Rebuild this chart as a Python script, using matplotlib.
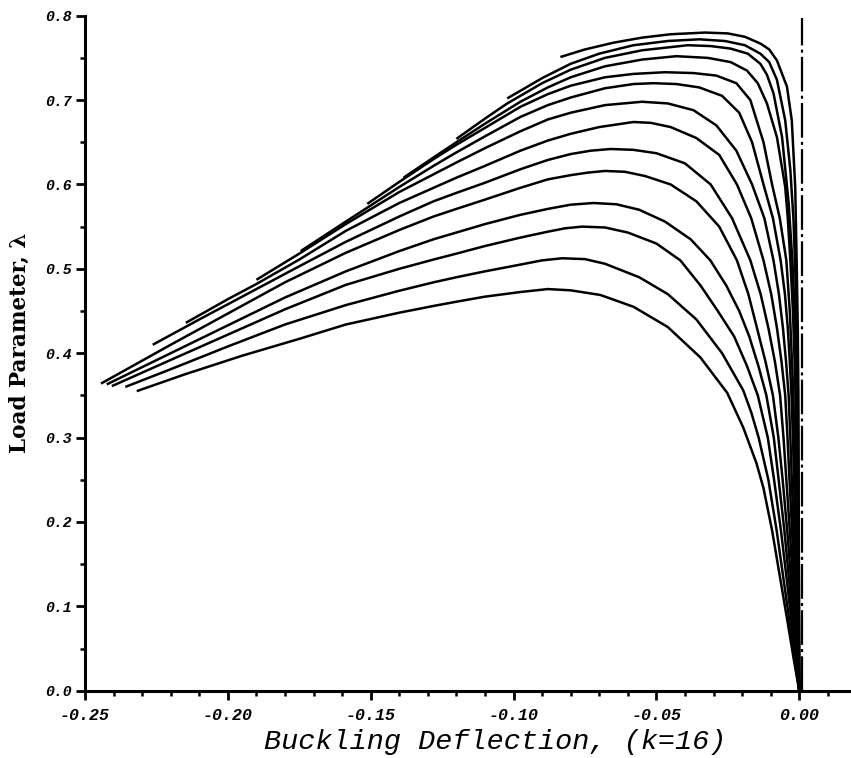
import matplotlib
matplotlib.use("Agg")
import matplotlib.pyplot as plt
from matplotlib.ticker import MultipleLocator

plt.rcParams['axes.unicode_minus'] = False
plt.rcParams['lines.scale_dashes'] = False

# load-deflection paths as (deflection, load) pairs
curve_01 = [(-0.2319, 0.355), (-0.215, 0.375), (-0.195, 0.397), (-0.175, 0.417), (-0.1587, 0.434),
            (-0.14, 0.448), (-0.128, 0.456), (-0.12, 0.461), (-0.11, 0.467), (-0.0976, 0.4725),
            (-0.088, 0.476), (-0.080, 0.4745), (-0.0696, 0.469), (-0.058, 0.455), (-0.046, 0.431),
            (-0.0346, 0.395), (-0.0252, 0.353), (-0.0196, 0.312), (-0.0150, 0.270), (-0.0125, 0.240),
            (-0.0095, 0.190), (-0.0065, 0.130), (-0.0040, 0.080), (-0.0018, 0.035), (0.0, 0.0)]
curve_02 = [(-0.2359, 0.360), (-0.22, 0.381), (-0.20, 0.408), (-0.18, 0.434), (-0.1587, 0.457),
            (-0.14, 0.474), (-0.128, 0.484), (-0.12, 0.490), (-0.11, 0.497), (-0.0976, 0.505),
            (-0.090, 0.510), (-0.083, 0.5125), (-0.075, 0.5115), (-0.068, 0.506), (-0.056, 0.490),
            (-0.046, 0.470), (-0.036, 0.440), (-0.027, 0.400), (-0.0196, 0.356), (-0.0168, 0.330),
            (-0.0142, 0.300), (-0.0108, 0.250), (-0.0079, 0.190), (-0.0054, 0.130), (-0.0033, 0.080),
            (-0.0015, 0.035), (0.0, 0.0)]
curve_03 = [(-0.2406, 0.361), (-0.22, 0.392), (-0.20, 0.422), (-0.18, 0.452), (-0.1587, 0.481),
            (-0.14, 0.500), (-0.128, 0.511), (-0.12, 0.518), (-0.11, 0.527), (-0.0976, 0.537),
            (-0.088, 0.544), (-0.082, 0.548), (-0.076, 0.550), (-0.068, 0.549), (-0.060, 0.543),
            (-0.050, 0.530), (-0.0416, 0.510), (-0.0345, 0.480), (-0.0285, 0.450), (-0.0228, 0.420),
            (-0.0183, 0.385), (-0.0145, 0.350), (-0.0110, 0.300), (-0.0088, 0.250), (-0.0064, 0.190),
            (-0.0043, 0.130), (-0.0026, 0.080), (-0.0011, 0.035), (0.0, 0.0)]
curve_04 = [(-0.2424, 0.363), (-0.22, 0.400), (-0.20, 0.433), (-0.18, 0.466), (-0.1587, 0.497),
            (-0.14, 0.521), (-0.128, 0.535), (-0.12, 0.543), (-0.11, 0.553), (-0.0976, 0.564),
            (-0.088, 0.571), (-0.080, 0.576), (-0.072, 0.578), (-0.064, 0.5765), (-0.056, 0.570),
            (-0.047, 0.556), (-0.038, 0.535), (-0.0311, 0.510), (-0.0255, 0.480), (-0.021, 0.450),
            (-0.0175, 0.420), (-0.0143, 0.385), (-0.0115, 0.350), (-0.0089, 0.300), (-0.0072, 0.250),
            (-0.0052, 0.190), (-0.0035, 0.130), (-0.0021, 0.080), (-0.0009, 0.035), (0.0, 0.0)]
curve_05 = [(-0.2444, 0.364), (-0.22, 0.410), (-0.20, 0.447), (-0.18, 0.484), (-0.1587, 0.519),
            (-0.14, 0.546), (-0.128, 0.562), (-0.12, 0.571), (-0.11, 0.582), (-0.0976, 0.596),
            (-0.088, 0.606), (-0.080, 0.611), (-0.074, 0.614), (-0.068, 0.616), (-0.061, 0.615),
            (-0.054, 0.610), (-0.045, 0.600), (-0.036, 0.580), (-0.028, 0.550), (-0.0218, 0.510),
            (-0.0178, 0.470), (-0.0148, 0.430), (-0.0118, 0.390), (-0.0092, 0.350), (-0.0073, 0.300),
            (-0.0058, 0.250), (-0.0042, 0.190), (-0.0028, 0.130), (-0.0017, 0.080), (-0.0007, 0.035),
            (0.0, 0.0)]
curve_06 = [(-0.2263, 0.410), (-0.21, 0.440), (-0.19, 0.476), (-0.175, 0.503), (-0.1587, 0.532),
            (-0.14, 0.562), (-0.128, 0.580), (-0.12, 0.590), (-0.11, 0.602), (-0.0976, 0.618),
            (-0.088, 0.629), (-0.080, 0.636), (-0.073, 0.640), (-0.066, 0.642), (-0.058, 0.641),
            (-0.050, 0.637), (-0.040, 0.625), (-0.031, 0.600), (-0.0235, 0.560), (-0.0171, 0.510),
            (-0.0135, 0.470), (-0.0108, 0.430), (-0.0085, 0.390), (-0.0067, 0.350), (-0.0055, 0.300),
            (-0.0045, 0.250), (-0.0033, 0.190), (-0.0022, 0.130), (-0.0013, 0.080), (-0.0005, 0.035),
            (0.0, 0.0)]
curve_07 = [(-0.2147, 0.436), (-0.20, 0.464), (-0.19, 0.482), (-0.175, 0.511), (-0.1587, 0.545),
            (-0.14, 0.578), (-0.128, 0.596), (-0.12, 0.608), (-0.11, 0.622), (-0.0976, 0.640),
            (-0.088, 0.652), (-0.080, 0.660), (-0.070, 0.668), (-0.058, 0.674), (-0.052, 0.673),
            (-0.045, 0.668), (-0.036, 0.655), (-0.028, 0.635), (-0.0218, 0.600), (-0.0168, 0.560),
            (-0.0125, 0.510), (-0.0098, 0.470), (-0.0078, 0.430), (-0.0062, 0.390), (-0.0049, 0.350),
            (-0.0041, 0.300), (-0.0034, 0.250), (-0.0025, 0.190), (-0.0017, 0.130), (-0.0010, 0.080),
            (-0.0004, 0.035), (0.0, 0.0)]
curve_08 = [(-0.190, 0.487), (-0.175, 0.518), (-0.1587, 0.553), (-0.14, 0.591), (-0.128, 0.612),
            (-0.12, 0.626), (-0.11, 0.643), (-0.0976, 0.663), (-0.088, 0.677), (-0.080, 0.685),
            (-0.068, 0.694), (-0.055, 0.698), (-0.046, 0.696), (-0.037, 0.688), (-0.029, 0.670),
            (-0.022, 0.640), (-0.0165, 0.600), (-0.0122, 0.560), (-0.0090, 0.510), (-0.0071, 0.470),
            (-0.0057, 0.430), (-0.0046, 0.390), (-0.0037, 0.350), (-0.0031, 0.300), (-0.0026, 0.250),
            (-0.0019, 0.190), (-0.0013, 0.130), (-0.0008, 0.080), (-0.0003, 0.035), (0.0, 0.0)]
curve_09 = [(-0.1745, 0.521), (-0.1587, 0.556), (-0.14, 0.597), (-0.128, 0.622), (-0.12, 0.638),
            (-0.11, 0.657), (-0.0976, 0.680), (-0.088, 0.694), (-0.080, 0.703), (-0.068, 0.714),
            (-0.058, 0.719), (-0.051, 0.720), (-0.043, 0.719), (-0.035, 0.715), (-0.027, 0.705),
            (-0.021, 0.685), (-0.0165, 0.650), (-0.0125, 0.600), (-0.0092, 0.560), (-0.0065, 0.510),
            (-0.0050, 0.470), (-0.0040, 0.430), (-0.0033, 0.390), (-0.0027, 0.350), (-0.0022, 0.300),
            (-0.0018, 0.250), (-0.0014, 0.190), (-0.0009, 0.130), (-0.0006, 0.080), (-0.0002, 0.035),
            (0.0, 0.0)]
curve_10 = [(-0.1512, 0.577), (-0.14, 0.603), (-0.128, 0.630), (-0.12, 0.647), (-0.11, 0.667),
            (-0.0976, 0.692), (-0.088, 0.707), (-0.080, 0.717), (-0.068, 0.727), (-0.058, 0.731),
            (-0.047, 0.733), (-0.037, 0.732), (-0.029, 0.729), (-0.022, 0.720), (-0.0171, 0.700),
            (-0.0125, 0.650), (-0.0095, 0.600), (-0.0068, 0.560), (-0.0045, 0.510), (-0.0033, 0.450),
            (-0.0024, 0.380), (-0.0018, 0.320), (-0.0012, 0.250), (-0.0007, 0.165), (-0.0003, 0.080),
            (0.0, 0.0)]
curve_11 = [(-0.1385, 0.608), (-0.128, 0.632), (-0.12, 0.650), (-0.11, 0.672), (-0.0976, 0.698),
            (-0.088, 0.715), (-0.080, 0.727), (-0.068, 0.740), (-0.055, 0.748), (-0.043, 0.752),
            (-0.032, 0.750), (-0.024, 0.745), (-0.0183, 0.735), (-0.0145, 0.720), (-0.0113, 0.696),
            (-0.0078, 0.656), (-0.0049, 0.597), (-0.0040, 0.560), (-0.0031, 0.510), (-0.0022, 0.450),
            (-0.0015, 0.380), (-0.0010, 0.300), (-0.0008, 0.250), (-0.0005, 0.165), (-0.0002, 0.080),
            (0.0, 0.0)]
curve_12 = [(-0.120, 0.654), (-0.11, 0.678), (-0.1022, 0.696), (-0.0976, 0.705), (-0.090, 0.720),
            (-0.080, 0.736), (-0.068, 0.750), (-0.055, 0.759), (-0.039, 0.765), (-0.031, 0.764),
            (-0.024, 0.761), (-0.018, 0.755), (-0.0136, 0.743), (-0.0113, 0.730), (-0.0090, 0.708),
            (-0.0060, 0.656), (-0.0037, 0.578), (-0.0024, 0.510), (-0.0015, 0.440), (-0.0009, 0.356),
            (-0.0005, 0.250), (-0.0002, 0.120), (0.0, 0.0)]
curve_13 = [(-0.1022, 0.702), (-0.0976, 0.711), (-0.090, 0.726), (-0.080, 0.743), (-0.070, 0.755),
            (-0.058, 0.765), (-0.046, 0.770), (-0.035, 0.772), (-0.026, 0.770), (-0.019, 0.765),
            (-0.0136, 0.755), (-0.0105, 0.745), (-0.0078, 0.724), (-0.0049, 0.676), (-0.0031, 0.617),
            (-0.0020, 0.558), (-0.0014, 0.500), (-0.0009, 0.430), (-0.0005, 0.356), (-0.0003, 0.250),
            (-0.0001, 0.120), (0.0, 0.0)]
curve_14 = [(-0.0836, 0.751), (-0.075, 0.760), (-0.065, 0.768), (-0.055, 0.774), (-0.045, 0.778),
            (-0.033, 0.780), (-0.025, 0.779), (-0.019, 0.775), (-0.0136, 0.767), (-0.0105, 0.760),
            (-0.0078, 0.747), (-0.0043, 0.716), (-0.0026, 0.676), (-0.0014, 0.597), (-0.0009, 0.510),
            (-0.0005, 0.430), (-0.0003, 0.356), (-0.0002, 0.250), (0.0, 0.0)]

CURVES = [curve_01, curve_02, curve_03, curve_04, curve_05, curve_06, curve_07,
          curve_08, curve_09, curve_10, curve_11, curve_12, curve_13, curve_14]

# bifurcation (perfect system) line at zero deflection
ref_x = [0.001, 0.001]
ref_y = [0.0, 0.797]

x_ticks = [-0.25, -0.20, -0.15, -0.10, -0.05, 0.00]
x_ticklabels = ["-0.25", "-0.20", "-0.15", "-0.10", "-0.05", "0.00"]
y_ticks = [0.0, 0.1, 0.2, 0.3, 0.4, 0.5, 0.6, 0.7, 0.8]
y_ticklabels = ["0.0", "0.1", "0.2", "0.3", "0.4", "0.5", "0.6", "0.7", "0.8"]

fig = plt.figure(figsize=(8.51, 7.58), dpi=100)
ax = fig.add_axes([0.0999, 0.0888, 0.899, 0.8905])

for c in CURVES:
    xs = [p[0] for p in c]
    ys = [p[1] for p in c]
    ax.plot(xs, ys, color='black', lw=1.8, solid_capstyle='butt', solid_joinstyle='round')

ln, = ax.plot(ref_x, ref_y, color='black', lw=1.6)
ln.set_dashes([25, 3, 2.2, 3])

ax.set_xlim(-0.25, 0.0178)
ax.set_ylim(0.0, 0.8)
for s in ['top', 'right']:
    ax.spines[s].set_visible(False)
for s in ['left', 'bottom']:
    ax.spines[s].set_linewidth(2.2)

ax.set_xticks(x_ticks)
ax.set_xticklabels(x_ticklabels, family='Liberation Mono', style='italic', weight='bold', fontsize=12)
ax.set_yticks(y_ticks)
ax.set_yticklabels(y_ticklabels, family='Liberation Mono', style='italic', weight='bold', fontsize=10.7)
ax.xaxis.set_minor_locator(MultipleLocator(0.01))
ax.yaxis.set_minor_locator(MultipleLocator(0.05))
ax.tick_params(which='major', direction='out', length=6.5, width=2.0)
ax.tick_params(which='minor', direction='out', length=3.5, width=1.8)
ax.tick_params(axis='x', which='major', pad=6)
ax.tick_params(axis='y', which='major', pad=3)

fig.text(495 / 851, 1 - 742 / 758, "Buckling Deflection, (k=16)", family='Liberation Mono',
         style='italic', fontsize=20.5, ha='center', va='center')
fig.text(20 / 851, 1 - 343 / 758, "Load Parameter, \u03bb", family='DejaVu Serif',
         weight='bold', fontsize=15.5, rotation=90, ha='center', va='center')

fig.savefig('out.png', dpi=100)
